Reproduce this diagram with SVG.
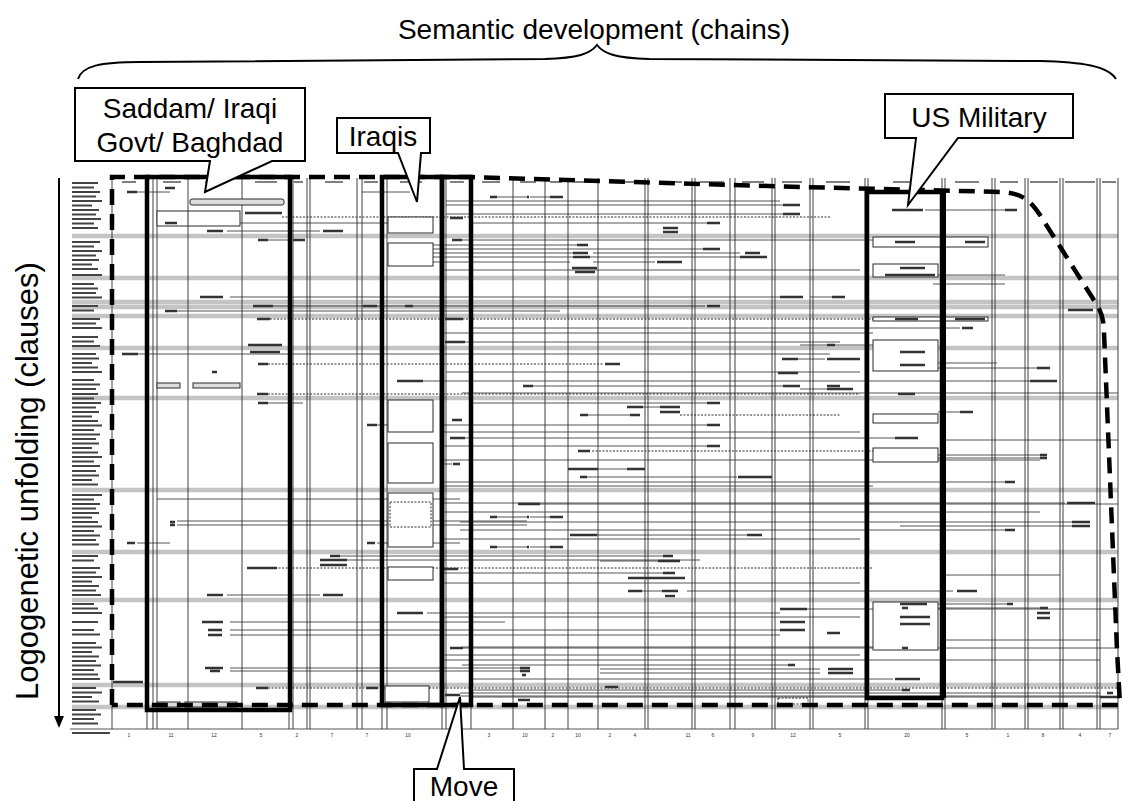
<svg xmlns="http://www.w3.org/2000/svg" width="1123" height="801" viewBox="0 0 1123 801">
<style>
.v{stroke:#2a2a2a;stroke-width:0.9;fill:none}
.h{stroke:#2a2a2a;stroke-width:0.8;fill:none}
.dot{stroke:#2a2a2a;stroke-width:1;stroke-dasharray:2 1.5;fill:none}
.band{stroke:#c4c4c4;stroke-width:4.5;fill:none}
.lab{stroke:#333;stroke-width:2.3;fill:none}
.hdr{stroke:#555;stroke-width:1.6;fill:none}
.rl{stroke:#444;stroke-width:2.1;fill:none}
.box{fill:#fff;stroke:#2a2a2a;stroke-width:1}
.gbox{fill:#ddd;stroke:#2a2a2a;stroke-width:1}
.heavy{fill:none;stroke:#000;stroke-width:4.5}
.env{fill:none;stroke:#000;stroke-width:4.5;stroke-dasharray:16 9}
.call{fill:#fff;stroke:#000;stroke-width:2}
.big{font-family:"Liberation Sans",Arial,sans-serif;font-size:28px;fill:#000;text-anchor:middle}
.num{font-family:"Liberation Sans",Arial,sans-serif;font-size:5px;fill:#333;text-anchor:middle}
</style>
<rect width="1123" height="801" fill="#fff"/>

<g id="title">
<text class="big" x="594" y="39">Semantic development (chains)</text>
<path d="M78,79 C82,66 100,62 140,62 L545,59 C578,58 590,54 597,45 C604,54 616,58 649,59 L1040,61 C1082,62 1108,66 1116,79" fill="none" stroke="#000" stroke-width="2"/>
</g>

<g id="axis">
<text class="big" transform="translate(38,481) rotate(-90)" style="font-size:31px">Logogenetic unfolding (clauses)</text>
<line x1="59" y1="178" x2="59" y2="718" stroke="#000" stroke-width="2"/>
<polygon points="54,716 64,716 59,728" fill="#000"/>
</g>

<g id="table">
<g id="bands">
<path class="band" d="M72 236H1118M72 278H1118M72 302H1118M72 307H1118M72 316H1118M72 348H1118M72 398H1118M72 490H1118M72 552H1118M72 600H1118M72 685H1118M72 707H1118"/>
</g>
<g id="connectors">
<path class="h" d="M137 192H170M362 192H410M497 197H527M530 197H550M446 201H780M446 205H783M925 210H1005M446 214H783M177 223H388M473 223H707M227 231H320M268 240H290M462 240H873M433 245H577M433 249H703M433 253H573M593 253H740M433 257H740M433 262H570M593 262H655M938 275H1005M933 284H1005M230 297H780M810 297H832M273 306H363M377 306H405M413 306H705M177 311H560M470 328H960M465 342H840M800 345H873M138 354H830M798 359H825M920 363H997M933 368H1037M423 381H1030M533 386H783M800 389H827M462 393H1118M268 403H303M470 403H707M643 407H660M938 412H960M588 415H630M377 425H403M440 425H707M462 438H895M440 446H707M938 455H1040M938 458H1040M440 460H1040M440 464H452M598 469H627M587 477H737M440 482H1005M157 499H460M440 503H1065M540 504H1118M497 517H527M530 517H550M177 521H527M460 522H1072M177 525H527M900 526H1072M460 530H1005M597 535H747M137 543H170M377 543H460M497 547H527M530 547H550M340 556H663M347 560H700M600 561H658M440 573H663M642 591H662M687 591H953M227 595H320M930 604H1007M910 608H1040M807 609H1118M427 613H780M230 622H505M230 630H780M230 635H780M462 647H902M462 648H1118M462 665H788M230 668H520M600 669H820M230 671H520M600 673H820M470 679H893M470 690H902M460 693H1100M460 696H1100M470 697H1100M70 729H1118M440 270H860M440 333H873M446 372H860M440 432H860M942 440H1118M440 486H873M440 512H1040M440 539H860M942 575H1060M440 583H860M440 617H860M942 640H1100M440 655H860M440 660H1100"/>
<path class="dot" d="M282 217H830M270 319H873M268 364H603M268 394H860M680 415H840M592 451H873M247 568H873M268 688H1118"/>
</g>
<g id="columns">
<path class="v" d="M112 178V729M147 178V729M153 178V729M157 178V729M188 178V729M242 178V729M289 178V729M293 178V729M307 178V729M310 178V729M357 178V729M362 178V729M382 178V729M387 178V729M442 178V729M446 178V729M471 178V729M513 178V729M545 178V729M568 178V729M598 178V729M645 178V729M648 178V729M692 178V729M695 178V729M730 178V729M735 178V729M772 178V729M775 178V729M810 178V729M813 178V729M865 178V729M868 178V729M942 178V729M945 178V729M992 178V729M995 178V729M1025 178V729M1028 178V729M1060 178V729M1063 178V729M1097 178V729M1100 178V729M1118 178V729"/>
</g>
<g id="inner-boxes">
<rect class="gbox" x="190" y="199" width="94" height="6" rx="2"/>
<rect class="box" x="157" y="211" width="83" height="15"/>
<line x1="188" y1="211" x2="188" y2="226" stroke="#2a2a2a"/>
<rect class="box" x="388" y="217" width="45" height="16"/>
<rect class="box" x="388" y="243" width="45" height="23"/>
<rect class="box" x="388" y="400" width="45" height="32"/>
<rect class="box" x="388" y="443" width="45" height="40"/>
<rect class="box" x="388" y="493" width="45" height="54"/>
<rect x="390" y="502" width="41" height="25" fill="none" stroke="#2a2a2a" stroke-dasharray="2 1.5"/>
<rect class="box" x="388" y="567" width="45" height="13"/>
<rect class="box" x="385" y="686" width="44" height="16"/>
<rect class="gbox" x="157" y="383" width="23" height="5"/>
<rect class="gbox" x="193" y="383" width="47" height="5"/>
<rect class="gbox" x="157" y="702" width="23" height="5"/>
<rect class="gbox" x="185" y="702" width="52" height="5"/>
<rect class="box" x="873" y="237" width="115" height="10"/>
<rect class="box" x="873" y="264" width="65" height="13"/>
<rect class="box" x="873" y="317" width="115" height="4"/>
<rect class="box" x="873" y="340" width="65" height="31"/>
<rect class="box" x="873" y="414" width="65" height="9"/>
<rect class="box" x="873" y="448" width="65" height="14"/>
<rect class="box" x="873" y="602" width="65" height="48"/>
<rect x="778" y="698" width="30" height="6" fill="#fff" stroke="#2a2a2a" stroke-dasharray="2 1.5"/>
</g>
<g id="labels">
<path class="hdr" d="M122 182h14M163 182h18M205 182h20M255 182h22M294 182h9M325 182h18M364 182h14M400 182h22M450 182h14M482 182h18M520 182h16M550 182h12M575 182h16M610 182h24M660 182h22M700 182h24M742 182h22M782 182h20M826 182h24M893 182h22M955 182h24M1000 182h18M1030 182h28M1065 182h30M1102 182h14"/>
<path class="lab" d="M127 192H137M165 188H175M490 197H497M527 197H529M550 197H563M783 205H800M892 210H923M1005 210H1017M245 213H282M783 214H800M450 218H463M165 223H177M707 223H720M663 228H678M663 232H678M207 231H223M323 231H343M258 240H268M293 240H305M452 240H462M577 245H588M703 249H720M573 253H588M745 253H760M573 257H590M740 257H767M657 262H682M572 268H597M575 272H595M200 297H223M780 297H803M832 297H845M253 306H273M363 306H377M405 306H413M707 306H720M165 311H177M1068 310H1093M257 319H270M445 319H463M962 328H973M445 342H465M248 345H282M827 345H835M250 352H280M122 354H138M782 359H798M827 359H860M258 364H268M605 364H620M1037 368H1050M212 372H217M778 373H798M397 381H423M1030 381H1057M523 386H533M783 386H800M827 386H840M827 389H853M898 394H915M257 394H268M258 403H268M707 403H720M627 407H643M660 407H680M660 412H680M960 412H973M580 415H588M630 415H640M452 420H462M367 425H377M707 425H720M450 438H465M895 438H918M707 446H720M578 451H590M1040 455H1047M1040 458H1047M453 464H460M568 469H598M627 469H645M580 477H587M738 477H772M1005 482H1015M1067 503H1095M518 504H540M490 517H497M527 517H529M550 517H563M170 522H175M1072 522H1090M1072 526H1090M170 525H175M1005 530H1015M570 535H597M747 535H762M127 543H135M367 543H375M490 547H497M527 547H529M550 547H563M330 556H340M663 556H673M320 560H347M658 561H680M320 565H347M247 568H277M440 569H458M663 573H675M628 578H685M628 591H642M662 591H678M957 591H977M207 595H223M323 595H343M665 596H675M900 604H927M1007 604H1013M902 608H908M1040 608H1048M780 609H807M397 613H423M1037 613H1050M1037 618H1050M202 622H223M780 622H805M208 630H222M780 630H805M827 633H840M208 635H222M450 648H463M902 648H908M788 665H795M205 668H223M520 668H530M828 669H853M210 671H220M520 671H530M828 673H853M522 675H526M895 679H920M113 682H143M605 687H618M256 688H268M366 688H378M902 690H910M1107 693H1113M445 695H460M1100 697H1120M518 700H530M900 617H930M900 624H930M900 352H925M900 365H925M900 268H925M885 275H935M895 242H915M965 242H985M895 319H918M955 319H985"/>
<path class="rl" d="M72 183h26M72 187.5h22M72 192h28M72 196.5h24M72 201h30M72 205.5h20M72 210h27M72 214.5h24M72 219h29M72 223.5h22M72 228h26M72 242h28M72 246.5h22M72 251h30M72 255.5h24M72 260h27M72 264.5h20M72 269h26M72 275h30M72 284h22M72 288.5h26M72 293h24M72 297.5h30M72 306h26M72 310.5h22M72 319h28M72 323.5h24M72 328h30M72 337h26M72 341.5h22M72 346h28M72 354h24M72 358.5h27M72 363h20M72 367.5h26M72 372h30M72 380h22M72 384.5h28M72 389h24M72 394h26M72 398.5h22M72 403h29M72 407.5h24M72 412h27M72 416.5h20M72 421h26M72 425.5h30M72 430h22M72 434.5h28M72 439h24M72 443.5h27M72 448h20M72 452.5h26M72 457h30M72 461.5h22M72 466h28M72 471h24M72 475.5h27M72 480h20M72 484.5h26M72 495h30M72 499.5h22M72 504h28M72 508.5h24M72 513h27M72 517.5h20M72 522h26M72 526.5h30M72 531h22M72 535.5h28M72 540h24M72 544.5h27M72 556h26M72 560.5h22M72 568h28M72 572.5h24M72 577h30M72 581.5h20M72 586h27M72 590.5h24M72 595h29M72 604h22M72 608.5h26M72 613h30M72 622h26M72 630h22M72 634.5h28M72 643h24M72 647.5h30M72 652h20M72 656.5h27M72 661h24M72 665.5h29M72 670h22M72 674.5h26M72 679h28M72 688h24M72 692.5h30M72 697h20M72 701.5h27M72 710h24M72 714.5h29M72 719h22M72 723.5h26M72 733h38"/>
</g>
<g id="column-numbers">
<text class="num" x="129" y="737">1</text><text class="num" x="171" y="737">11</text><text class="num" x="214" y="737">12</text><text class="num" x="261" y="737">5</text><text class="num" x="297" y="737">2</text><text class="num" x="332" y="737">7</text><text class="num" x="367" y="737">7</text><text class="num" x="408" y="737">10</text><text class="num" x="489" y="737">3</text><text class="num" x="525" y="737">10</text><text class="num" x="553" y="737">2</text><text class="num" x="578" y="737">10</text><text class="num" x="610" y="737">2</text><text class="num" x="635" y="737">4</text><text class="num" x="688" y="737">11</text><text class="num" x="713" y="737">6</text><text class="num" x="753" y="737">9</text><text class="num" x="793" y="737">12</text><text class="num" x="840" y="737">5</text><text class="num" x="907" y="737">20</text><text class="num" x="967" y="737">5</text><text class="num" x="1008" y="737">1</text><text class="num" x="1043" y="737">8</text><text class="num" x="1080" y="737">4</text><text class="num" x="1110" y="737">7</text>
</g>
</g>

<g id="saddam-box"><rect class="heavy" x="147" y="177" width="143" height="533"/></g>
<g id="iraqis-box"><rect class="heavy" x="382" y="177" width="60" height="528"/></g>
<g id="move-box"><rect class="heavy" x="442" y="177" width="29" height="528"/></g>
<g id="usmil-box"><rect class="heavy" x="867" y="192" width="75" height="506"/><line x1="945" y1="192" x2="945" y2="698" stroke="#000" stroke-width="2"/></g>

<g id="envelope">
<path class="env" d="M112,705 L112,177 L470,177 L800,187 L1000,192 C1022,193 1030,200 1040,215 L1097,305 C1102,313 1104,322 1104,332 L1117,650 L1120,705 L112,705"/>
</g>

<g id="callout-saddam">
<path class="call" d="M75,88 H305 V161 H272 L205,192 L210,161 H75 Z"/>
<text class="big" x="190" y="118">Saddam/ Iraqi</text>
<text class="big" x="190" y="152">Govt/ Baghdad</text>
</g>
<g id="callout-iraqis">
<path class="call" d="M337,118 H430 V153 H421 L417,202 L398,153 H337 Z"/>
<text class="big" x="383" y="146">Iraqis</text>
</g>
<g id="callout-usmil">
<path class="call" d="M885,94 H1073 V138 H958 L908,205 L916,138 H885 Z"/>
<text class="big" x="979" y="127">US Military</text>
</g>
<g id="callout-move">
<path class="call" d="M414,769 H437 L460,697 L464,769 H514 V806 H414 Z"/>
<text class="big" x="464" y="796">Move</text>
</g>
</svg>
